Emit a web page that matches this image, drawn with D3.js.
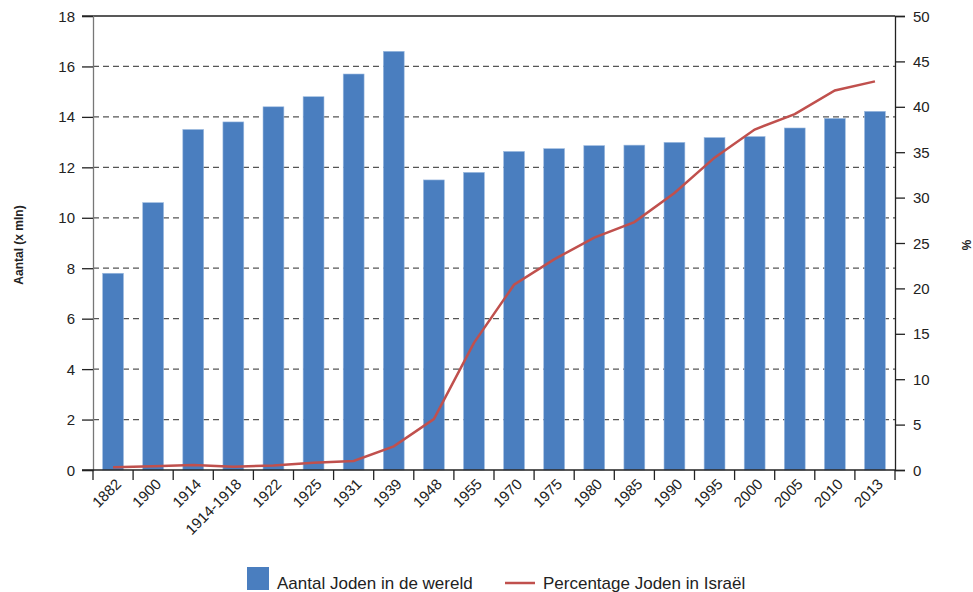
<!DOCTYPE html>
<html>
<head>
<meta charset="utf-8">
<script src="https://cdn.jsdelivr.net/npm/d3@7"></script>
<style>
  body { margin: 0; background: #fff; }
  svg { display: block; font-family: "Liberation Sans", Arial, sans-serif; }
  .tick text { fill: #222; }
</style>
</head>
<body>
<svg width="973" height="592"></svg>
<script>
var years = ["1882", "1900", "1914", "1914-1918", "1922", "1925", "1931", "1939", "1948", "1955",
    "1970", "1975", "1980", "1985", "1990", "1995", "2000", "2005", "2010", "2013"];
var joden = [7.8, 10.6, 13.5, 13.8, 14.4, 14.8, 15.7, 16.6, 11.5, 11.8,
    12.63, 12.74, 12.86, 12.88, 12.99, 13.18, 13.22, 13.56, 13.94, 14.22];
var israel = [0.3, 0.4, 0.55, 0.35, 0.5, 0.8, 1.0, 2.6, 5.6, 14.0,
    20.4, 23.2, 25.6, 27.3, 30.5, 34.4, 37.5, 39.2, 41.8, 42.8];
var leftTicks = [0, 2, 4, 6, 8, 10, 12, 14, 16, 18];
var rightTicks = [0, 5, 10, 15, 20, 25, 30, 35, 40, 45, 50];

var svg = d3.select("svg"),
    plotLeft = 93, plotRight = 895, plotTop = 16, plotBottom = 470;

var x = d3.scaleBand()
    .domain(years)
    .range([plotLeft, plotRight])
    .paddingInner(0.48)
    .paddingOuter(0.24);

var y = d3.scaleLinear().domain([0, 18]).range([plotBottom, plotTop]);
var y2 = d3.scaleLinear().domain([0, 50]).range([plotBottom, plotTop]);

// dashed gridlines
svg.append("g")
    .selectAll("line")
    .data(leftTicks.filter(d => d > 0 && d < 18))
    .enter().append("line")
    .attr("x1", plotLeft)
    .attr("x2", plotRight)
    .attr("y1", d => y(d))
    .attr("y2", d => y(d))
    .attr("stroke", "#555")
    .attr("stroke-width", 1.2)
    .attr("stroke-dasharray", "6,4");

// top line
svg.append("line")
    .attr("x1", plotLeft - 11).attr("x2", plotRight)
    .attr("y1", y(18)).attr("y2", y(18))
    .attr("stroke", "#222").attr("stroke-width", 1.3);

// bars
svg.append("g")
    .selectAll("rect")
    .data(years)
    .enter().append("rect")
    .attr("x", d => x(d))
    .attr("width", x.bandwidth())
    .attr("y", (d, i) => y(joden[i]))
    .attr("height", (d, i) => plotBottom - y(joden[i]))
    .attr("fill", "#4a7ebf")
    .attr("stroke", "#9dbbe0")
    .attr("stroke-width", 0.6);

// left axis
var yAxis = svg.append("g")
    .attr("transform", "translate(" + plotLeft + ",0)")
    .call(d3.axisLeft(y).tickValues(leftTicks).tickSize(11).tickPadding(7));
yAxis.select(".domain").attr("stroke", "#777").attr("stroke-width", 1.3);
yAxis.selectAll(".tick line").attr("stroke", "#222").attr("stroke-width", 1.3);
yAxis.selectAll("text").attr("font-size", 15).attr("dy", "0.34em");

// right axis
var y2Axis = svg.append("g")
    .attr("transform", "translate(" + plotRight + ",0)")
    .call(d3.axisRight(y2).tickValues(rightTicks).tickSize(10).tickPadding(8));
y2Axis.select(".domain").attr("stroke", "#222").attr("stroke-width", 1.3);
y2Axis.selectAll(".tick line").attr("stroke", "#222").attr("stroke-width", 1.3);
y2Axis.selectAll("text").attr("font-size", 15).attr("dy", "0.34em");

// bottom axis
var xAxis = svg.append("g")
    .attr("transform", "translate(0," + plotBottom + ")")
    .call(d3.axisBottom(x).tickSize(0).tickPadding(0));
xAxis.select(".domain").attr("stroke", "#222").attr("stroke-width", 1.3)
    .attr("d", "M" + (plotLeft - 11) + ",0H" + plotRight);
xAxis.selectAll("text")
    .attr("font-size", 15)
    .attr("text-anchor", "end")
    .attr("dy", null)
    .attr("y", null)
    .attr("transform", "translate(9,15) rotate(-45)");

var bounds = years.map(d => x(d) - x.step() * x.paddingInner() / 2);
bounds.push(plotRight);
svg.append("g")
    .selectAll("line")
    .data(bounds)
    .enter().append("line")
    .attr("x1", d => d).attr("x2", d => d)
    .attr("y1", plotBottom).attr("y2", plotBottom + 10)
    .attr("stroke", "#222").attr("stroke-width", 1.3);

// line
var line = d3.line()
    .x((d, i) => x(years[i]) + x.bandwidth() / 2)
    .y(d => y2(d));
svg.append("path")
    .datum(israel)
    .attr("d", line)
    .attr("fill", "none")
    .attr("stroke", "#c0504d")
    .attr("stroke-width", 2.5);

// axis titles
svg.append("text")
    .attr("transform", "translate(23,245) rotate(-90)")
    .attr("text-anchor", "middle")
    .attr("font-size", 12)
    .attr("font-weight", "bold")
    .attr("fill", "#222")
    .text("Aantal (x mln)");

svg.append("text")
    .attr("transform", "translate(962,245) rotate(90)")
    .attr("text-anchor", "middle")
    .attr("font-size", 12)
    .attr("font-weight", "bold")
    .attr("fill", "#222")
    .text("%");

// legend
var legend = svg.append("g");
legend.append("rect")
    .attr("x", 247).attr("y", 567).attr("width", 22).attr("height", 23)
    .attr("fill", "#4a7ebf");
legend.append("text")
    .attr("x", 277).attr("y", 589)
    .attr("font-size", 17).attr("fill", "#222")
    .text("Aantal Joden in de wereld");
legend.append("line")
    .attr("x1", 505).attr("x2", 535).attr("y1", 583).attr("y2", 583)
    .attr("stroke", "#c0504d").attr("stroke-width", 2.5);
legend.append("text")
    .attr("x", 543).attr("y", 589)
    .attr("font-size", 17).attr("fill", "#222")
    .text("Percentage Joden in Israël");
</script>
</body>
</html>
